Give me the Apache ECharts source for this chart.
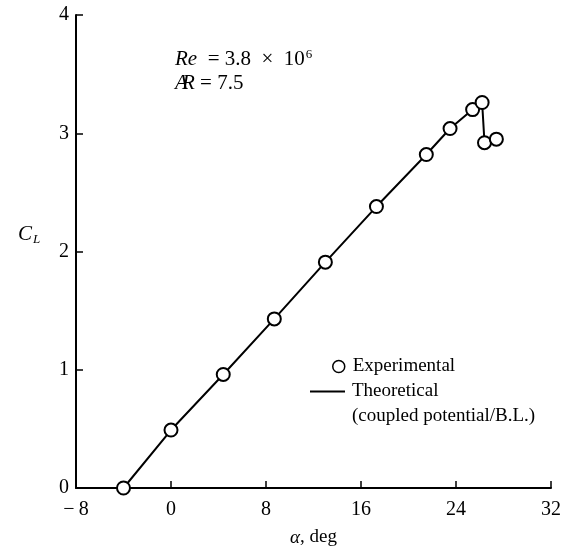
<!DOCTYPE html>
<html>
<head>
<meta charset="utf-8">
<script src="https://cdn.jsdelivr.net/npm/echarts@6/dist/echarts.min.js"></script>
<style>html,body{margin:0;padding:0;background:#fff;}#c{width:564px;height:552px;}</style>
</head>
<body>
<div id="c"></div>
<script>
// Data
var expAlpha = [-4.0, 0.0, 4.4, 8.7, 13.0, 17.3, 21.5, 23.5, 25.4, 26.2, 26.4, 27.4];
var expCL    = [0.00, 0.49, 0.96, 1.43, 1.91, 2.38, 2.82, 3.04, 3.20, 3.26, 2.92, 2.95];
var theoryAlpha = [-4.0, 0.0, 4.4, 8.7, 13.0, 17.3, 21.5, 23.5, 25.4, 26.2, 26.4];
var theoryCL    = [0.00, 0.49, 0.96, 1.43, 1.91, 2.38, 2.82, 3.04, 3.20, 3.26, 2.92];
var xTicks = [-8, 0, 8, 16, 24, 32];
var yTicks = [0, 1, 2, 3, 4];

var FONT = '"Liberation Serif", "DejaVu Serif", serif';
var chart = echarts.init(document.getElementById('c'));

function zip(a, b) { return a.map(function (v, i) { return [v, b[i]]; }); }

chart.setOption({
  animation: false,
  backgroundColor: '#fff',
  grid: { left: 76, right: 9, top: 15, bottom: 55 },
  xAxis: {
    type: 'value', min: xTicks[0], max: xTicks[xTicks.length - 1], interval: 8,
    axisLine: { onZero: false, lineStyle: { color: '#000', width: 2 } },
    axisTick: { inside: true, length: 7, lineStyle: { color: '#000', width: 1.5 } },
    splitLine: { show: false },
    axisLabel: {
      color: '#000', fontFamily: FONT, fontSize: 20, margin: 12,
      formatter: function (v) { return String(v).replace('-', '\u2212\u2009'); }
    },
    name: '{i|α}, deg', nameLocation: 'middle', nameGap: 40,
    nameTextStyle: {
      color: '#000', fontFamily: FONT, fontSize: 19,
      rich: { i: { fontStyle: 'italic', fontFamily: FONT, fontSize: 19, color: '#000' } }
    }
  },
  yAxis: {
    type: 'value', min: yTicks[0], max: yTicks[yTicks.length - 1], interval: 1,
    axisLine: { show: true, onZero: false, lineStyle: { color: '#000', width: 2 } },
    axisTick: { show: true, inside: true, length: 7, lineStyle: { color: '#000', width: 1.5 } },
    splitLine: { show: false },
    axisLabel: { color: '#000', fontFamily: FONT, fontSize: 20, margin: 7 }
  },
  legend: [
    {
      data: [{ name: 'Experimental', icon: 'circle',
               itemStyle: { color: '#fff', borderColor: '#000', borderWidth: 1.5 } }],
      left: 327, top: 352, itemWidth: 12, itemHeight: 12,
      textStyle: { color: '#000', fontFamily: FONT, fontSize: 19, padding: [0, 0, 0, 3] },
      selectedMode: false
    },
    {
      data: [{ name: 'Theoretical', icon: 'rect', itemStyle: { color: '#000' } }],
      left: 305, top: 377, itemWidth: 35, itemHeight: 2,
      textStyle: { color: '#000', fontFamily: FONT, fontSize: 19, padding: [0, 0, 0, 2] },
      selectedMode: false
    }
  ],
  graphic: [
    {
      type: 'text', left: 352, top: 407,
      style: { text: '(coupled potential/B.L.)', fill: '#000', font: '19px ' + FONT }
    },
    {
      type: 'text', left: 18, top: 224,
      style: {
        text: '{c|C}{l|L}', fill: '#000',
        rich: {
          c: { fontFamily: FONT, fontStyle: 'italic', fontSize: 21, fill: '#000' },
          l: { fontFamily: FONT, fontStyle: 'italic', fontSize: 13, fill: '#000', padding: [10, 0, 0, 1] }
        }
      }
    },
    {
      type: 'text', left: 175, top: 48,
      style: {
        text: '{i|Re}\u2002= 3.8\u2002×\u200210{s|6}', fill: '#000',
        font: '21px ' + FONT,
        rich: {
          i: { fontFamily: FONT, fontStyle: 'italic', fontSize: 21, fill: '#000' },
          s: { fontFamily: FONT, fontSize: 13, fill: '#000', padding: [0, 0, 10, 1] }
        }
      }
    },
    {
      type: 'text', left: 175, top: 73,
      style: { text: 'A', fill: '#000', font: 'italic 21px ' + FONT }
    },
    {
      type: 'text', left: 182, top: 73,
      style: {
        text: '{i|R} = 7.5', fill: '#000', font: '21px ' + FONT,
        rich: { i: { fontFamily: FONT, fontStyle: 'italic', fontSize: 21, fill: '#000' } }
      }
    }
  ],
  series: [
    {
      name: 'Theoretical', type: 'line', data: zip(theoryAlpha, theoryCL),
      showSymbol: false, symbol: 'none', clip: false, z: 2,
      lineStyle: { color: '#000', width: 2 }, itemStyle: { color: '#000' }
    },
    {
      name: 'Experimental', type: 'scatter', data: zip(expAlpha, expCL),
      symbol: 'circle', symbolSize: 13, clip: false, z: 3,
      itemStyle: { color: '#fff', borderColor: '#000', borderWidth: 2, opacity: 1 }
    }
  ]
});
</script>
</body>
</html>
